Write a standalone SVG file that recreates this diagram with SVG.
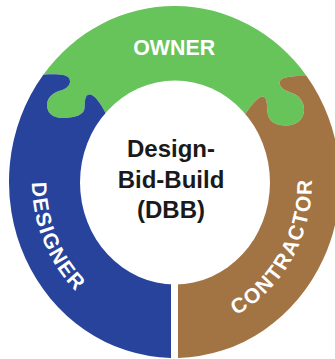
<svg xmlns="http://www.w3.org/2000/svg" width="335" height="359" viewBox="0 0 335 359">
  <style>
    .seg-owner { fill: #66C45A; }
    .seg-designer { fill: #28439C; }
    .seg-contractor { fill: #A27343; }
    .hub { fill: #FFFFFF; }
    .lbl { font-family: "Liberation Sans", Arial, sans-serif; font-weight: bold; fill: #FFFFFF; }
    .ring-lbl { font-size: 21px; letter-spacing: 1.5px; }
    .center-lbl { font-family: "Liberation Sans", Arial, sans-serif; font-weight: bold; font-size: 24px; fill: #1A1A1A; text-anchor: middle; }
  </style>
  <defs>
    <path id="arcDesigner" d="M 45.8,116.9 A 140 150 0 0 0 134.1,326.4" fill="none"/>
    <path id="arcContractor" d="M 193.4,330.2 A 140 150 0 0 0 304.5,133.7" fill="none"/>
  </defs>
  <rect x="0" y="0" width="335" height="359" fill="#FFFFFF"/>

  <g id="connectors"></g>

  <g id="owner">
    <path class="seg-owner" d="M 43.3,74.7 A 165.5 176 0 0 1 306.6,76
      C 295,76 283,76 280,81
      C 278,87 285,91 292,93
      C 300,96 304,102 304,110
      C 304,119 297,125.5 286,125.5
      C 275,125.5 268,121 267.5,112
      C 267,104 267,97 263,96.5
      C 259,96 253,103 246,113
      L 175,182 L 106,114
      C 100,102 94,94 89,94.5
      C 85,95 85,100 84.5,108
      C 84,116 72,118 62,118
      C 53,118 47,113 47,105
      C 47,97 54,92 62,90
      C 68,88 72,83 69,78
      C 66,74 55,74 43.3,74.7 Z"/>
    <text class="lbl" font-size="23" text-anchor="middle" transform="translate(174.2,55) scale(0.93,1)">OWNER</text>
  </g>

  <g id="designer">
    <path class="seg-designer" d="M 171,357.96 A 165.5 176 0 0 1 43.3,74.7
      C 55,74 66,74 69,78
      C 72,83 68,88 62,90
      C 54,92 47,97 47,105
      C 47,113 53,118 62,118
      C 72,118 84,116 84.5,108
      C 85,100 85,95 89,94.5
      C 94,94 100,102 106,114
      L 171,182 Z"/>
    <text class="lbl ring-lbl"><textPath href="#arcDesigner" startOffset="50%" text-anchor="middle">DESIGNER</textPath></text>
  </g>

  <g id="contractor">
    <path class="seg-contractor" d="M 178,357.96 A 165.5 176 0 0 0 306.6,76
      C 295,76 283,76 280,81
      C 278,87 285,91 292,93
      C 300,96 304,102 304,110
      C 304,119 297,125.5 286,125.5
      C 275,125.5 268,121 267.5,112
      C 267,104 267,97 263,96.5
      C 259,96 253,103 246,113
      L 178,182 Z"/>
    <text class="lbl ring-lbl"><textPath href="#arcContractor" startOffset="50%" text-anchor="middle">CONTRACTOR</textPath></text>
  </g>

  <g id="center">
    <ellipse class="hub" cx="175" cy="182.5" rx="95" ry="102"/>
    <text class="center-lbl" x="171" y="157">Design-</text>
    <text class="center-lbl" x="171" y="188">Bid-Build</text>
    <text class="center-lbl" x="171" y="218">(DBB)</text>
  </g>
</svg>
